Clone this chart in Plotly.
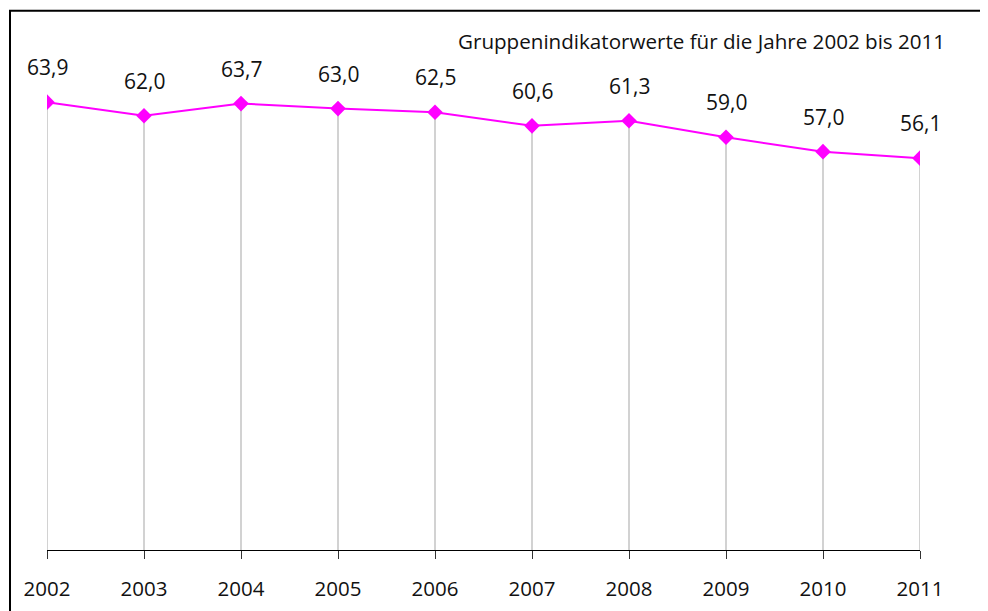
import plotly.graph_objects as go

years = [2002, 2003, 2004, 2005, 2006, 2007, 2008, 2009, 2010, 2011]
values = [63.9, 62.0, 63.7, 63.0, 62.5, 60.6, 61.3, 59.0, 57.0, 56.1]
labels = ["63,9", "62,0", "63,7", "63,0", "62,5", "60,6", "61,3", "59,0", "57,0", "56,1"]
title_text = "Gruppenindikatorwerte für die Jahre 2002 bis 2011"

Y_MIN = 1.5
Y_MAX = 76.6
FONT = "Open Sans"

# page body has an 8px margin; compensate in the figure size/margins
OFF = 8
W, H = 988 - OFF, 611 - OFF
L, R, T, B = 47 - OFF, 68, 11 - OFF, 61
PW = W - L - R
PH = H - T - B

fig = go.Figure()
fig.add_trace(go.Scatter(
    x=years, y=values, mode="lines+markers",
    line=dict(color="#FF00FF", width=2),
    marker=dict(symbol="diamond", size=12, color="#FF00FF"),
    error_y=dict(type="data", symmetric=False, array=[0] * len(values),
                 arrayminus=[v - Y_MIN for v in values],
                 width=0, color="#B4B4B4", thickness=1.2),
    hoverinfo="skip", showlegend=False,
))

for x, y, t in zip(years, values, labels):
    fig.add_annotation(x=x, y=y, text=t, showarrow=False, yshift=35,
                       xanchor="center", yanchor="middle",
                       font=dict(family=FONT, size=21, color="#111111"))

fig.add_annotation(xref="paper", yref="paper", x=(947 - 47) / PW, y=(550 - 41) / PH,
                   text=title_text, showarrow=False, xanchor="right", yanchor="middle",
                   font=dict(family=FONT, size=20.6, color="#111111"))

# outer frame (left and top edges visible)
fig.add_shape(type="rect", xref="paper", yref="paper",
              x0=(10 - 47) / PW, x1=1.3, y0=-0.3, y1=(550 - 10.7) / PH,
              line=dict(color="black", width=2), layer="above")

fig.update_layout(
    width=W, height=H,
    margin=dict(l=L, r=R, t=T, b=B),
    paper_bgcolor="white", plot_bgcolor="white",
    xaxis=dict(range=[2002, 2011], tickvals=years, ticktext=[str(y) for y in years],
               showgrid=False, zeroline=False, showline=True, linecolor="black", linewidth=1,
               ticks="outside", ticklen=8, tickcolor="#333333", tickwidth=1,
               ticklabelstandoff=12,
               tickfont=dict(family=FONT, size=20.5, color="#111111")),
    yaxis=dict(range=[Y_MIN, Y_MAX], visible=False, showgrid=False, zeroline=False),
)

fig.write_html("out.html")
